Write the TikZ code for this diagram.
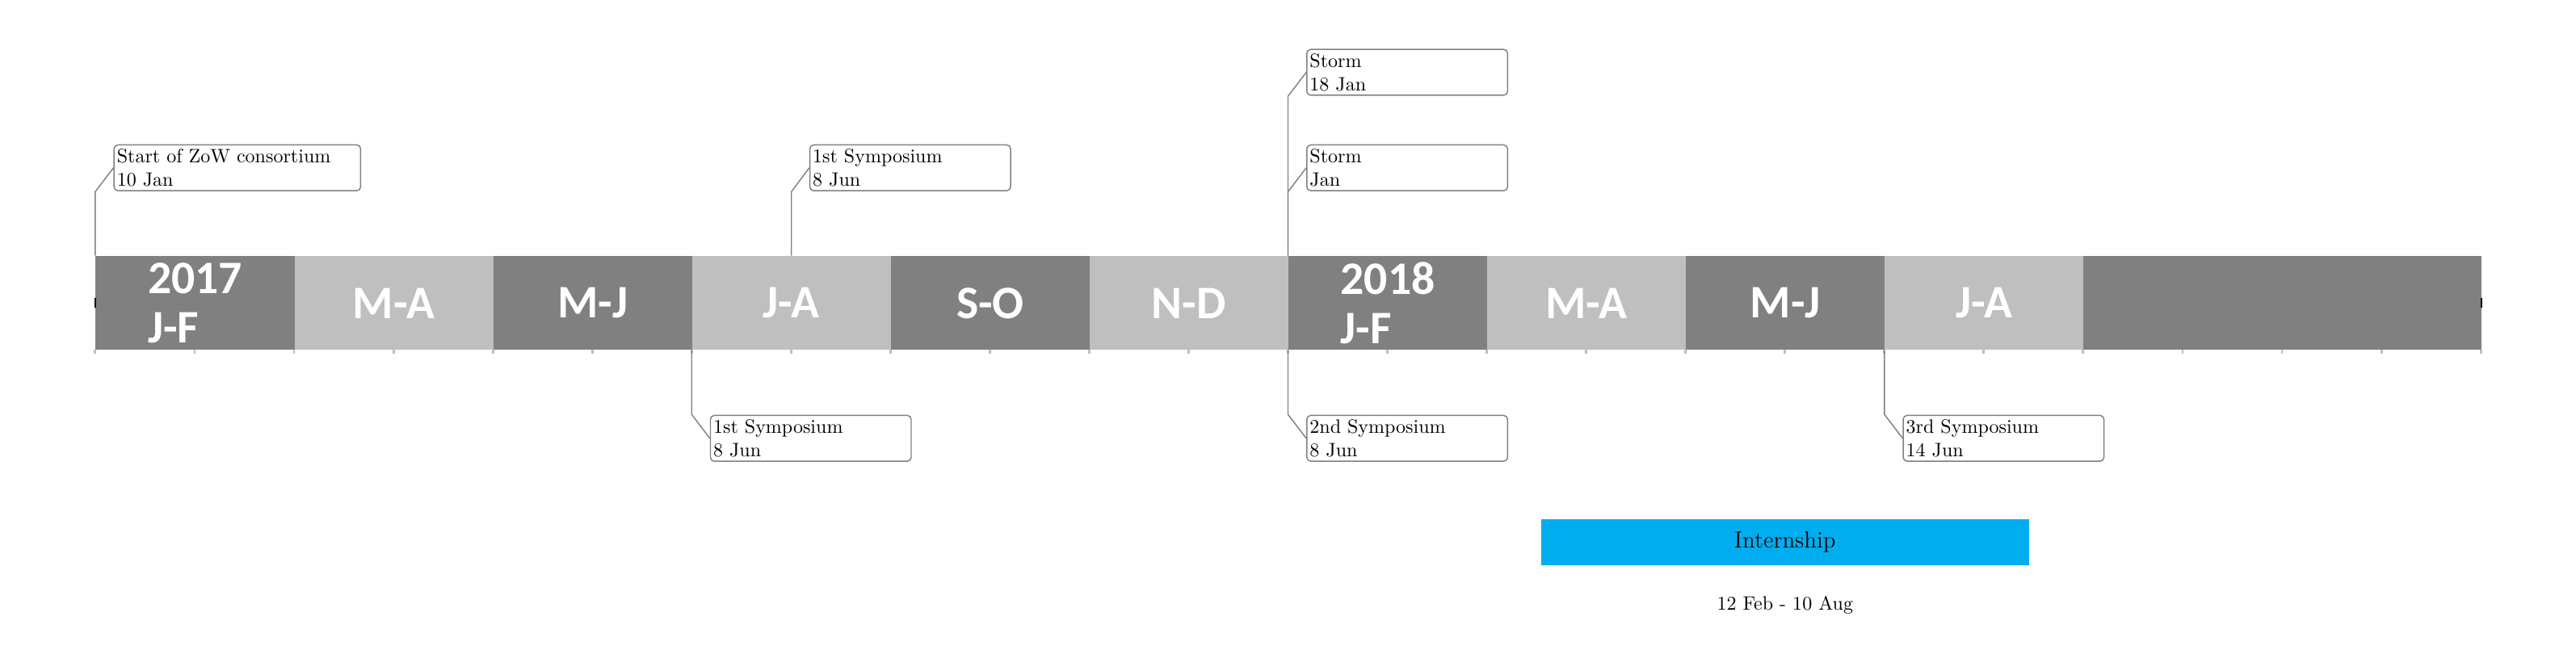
\documentclass[tikz,border=0pt]{standalone}
\usepackage{fontspec}
\newfontfamily\monthfont{Carlito}
\usepackage{tikz}
\usetikzlibrary{positioning}

\definecolor{internblue}{RGB}{0,174,239}

\tikzset{
  monthbox/.style={anchor=west, minimum width=3.6cm, minimum height=1.7cm, inner sep=0pt,
    text=white, align=left, font=\monthfont\bfseries\fontsize{24}{25}\selectfont},
  eventbox/.style={anchor=west, draw=gray, line width=0.6pt, fill=white, rounded corners=2pt,
    align=left, inner sep=1.5pt, text width=3.53cm, minimum height=0.83cm},
  eventline/.style={draw=gray, line width=0.6pt},
  monthtick/.style={draw=lightgray, line width=1.2pt}
}

\begin{document}
\begin{tikzpicture}
  \useasboundingbox (-1.725,-6.59) rectangle (44.925,5.49);

  % the bar, then the two-month blocks on top of it
  \node[monthbox, fill=gray, minimum width=43.2cm] (bar) at (0,0) {};
  \foreach \i/\col/\lab in {0/gray/{2017\\J-F}, 1/lightgray/M-A, 2/gray/M-J, 3/lightgray/J-A,
      4/gray/S-O, 5/lightgray/N-D, 6/gray/{2018\\J-F}, 7/lightgray/M-A, 8/gray/M-J, 9/lightgray/J-A}
    \node[monthbox, fill=\col] (m\i) at (\i*3.6,0) {\lab};

  % month ticks
  \foreach \k in {0,...,24}
    \draw[monthtick] (\k*1.8,-0.85) -- ++(0,-0.06);
  \draw[line width=0.5pt] ([yshift=-0.09cm]bar.west) -- ([yshift=0.09cm]bar.west);
  \draw[line width=0.5pt] ([yshift=-0.09cm]bar.east) -- ([yshift=0.09cm]bar.east);

  % events above
  \node[eventbox, text width=4.36cm] (zow) at (0.33,2.45) {Start of ZoW consortium\\10 Jan};
  \node[eventbox] (sym1a) at (12.93,2.45) {1st Symposium\\8 Jun};
  \node[eventbox] (storm1) at (21.93,4.18) {Storm\\18 Jan};
  \node[eventbox] (storm2) at (21.93,2.45) {Storm\\Jan};

  \draw[eventline] (m0.north west) -- ++(0,1.16) -- (zow.west);
  \draw[eventline] (m3.north) -- ++(0,1.16) -- (sym1a.west);
  \draw[eventline] (m6.north west) -- ++(0,2.89) -- (storm1.west);
  \draw[eventline] (m6.north west) -- ++(0,1.16) -- (storm2.west);

  % events below
  \node[eventbox] (sym1b) at (11.13,-2.45) {1st Symposium\\8 Jun};
  \node[eventbox] (sym2) at (21.93,-2.45) {2nd Symposium\\8 Jun};
  \node[eventbox] (sym3) at (32.73,-2.45) {3rd Symposium\\14 Jun};

  \draw[eventline] (m3.south west) -- ++(0,-1.16) -- (sym1b.west);
  \draw[eventline] (m6.south west) -- ++(0,-1.16) -- (sym2.west);
  \draw[eventline] (m9.south west) -- ++(0,-1.16) -- (sym3.west);

  % internship
  \node[fill=internblue, minimum width=8.84cm, minimum height=0.83cm, font=\large] (intern) at (30.6,-4.33) {Internship};
  \node[below=0.44cm of intern] (dates) {12 Feb - 10 Aug};
\end{tikzpicture}
\end{document}
